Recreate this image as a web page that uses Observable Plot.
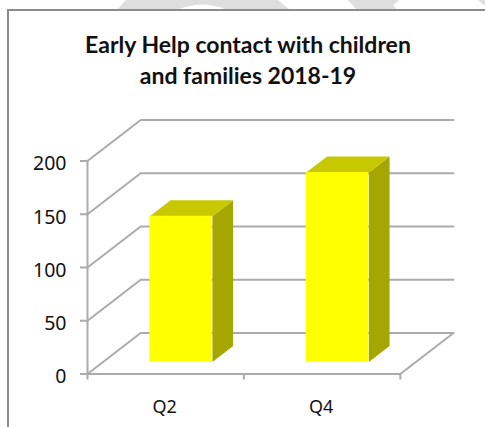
<!DOCTYPE html>
<html>
<head>
<meta charset="utf-8">
<script src="https://cdn.jsdelivr.net/npm/d3@7"></script>
<script src="https://cdn.jsdelivr.net/npm/@observablehq/plot@0.6"></script>
<style>
  html, body { margin: 0; padding: 0; background: #fff; overflow: hidden; }
  #page { position: relative; width: 485px; height: 427px; font-family: Lato, sans-serif; overflow: hidden; }
  #backdrop { position: absolute; left: 0; top: 0; }
  #frame { position: absolute; left: 7px; top: 9px; width: 500px; height: 440px; background: #fff;
           border: 2px solid #8c8c8c; box-sizing: border-box; }
  #title { position: absolute; left: 48px; top: 29px; width: 400px; margin: 0; text-align: center;
           font-size: 23px; line-height: 30.5px; font-weight: 700; color: #111; }
  #chart { position: absolute; left: 0; top: 0; }
  #chart svg { background: transparent; }
</style>
</head>
<body>
<div id="page">
  <svg id="backdrop" width="485" height="12" fill="#dedede">
    <path d="M117,10 L126,0 H278 L290,10 H227 Q203,-1 177,10 Z"/>
    <path d="M348,0 H399 L393,5 L397,10 H357 Z"/>
    <path d="M478,0 H485 V6 Z"/>
  </svg>
  <div id="frame"></div>
  <h1 id="title">Early Help contact with children<br>and families 2018-19</h1>
  <div id="chart"></div>
</div>
<script>
// Quarterly contact counts
const quarters = ["Q2", "Q4"];
const contacts = [137, 178];
const valueTicks = [0, 50, 100, 150, 200];

// Oblique projection: depth 0 is the front of the floor, depth 1 the back wall.
const depthX = 0.34;      // category units per full depth
const depthY = 38.5;      // value units per full depth
const barInset = 0.30;    // bar start within its category slot
const barWidth = 0.40;
const barDepth = [0.29, 0.68];

const px = (slot, d) => slot + d * depthX;
const py = (value, d) => value + d * depthY;

// Each gridline runs along the left wall and then across the back wall.
const gridlines = valueTicks.flatMap((v) => [
  {v, x: px(0, 0), y: py(v, 0)},
  {v, x: px(0, 1), y: py(v, 1)},
  {v, x: px(2, 1), y: py(v, 1)}
]);

// Front edge of the floor and its right-hand edge.
const floorEdge = [
  {x: px(0, 0), y: py(0, 0)},
  {x: px(2, 0), y: py(0, 0)},
  {x: px(2, 1), y: py(0, 1)}
];

const bars = quarters.map((q, i) => {
  const x0 = i + barInset;
  const x1 = x0 + barWidth;
  return {q, x0, x1, value: contacts[i]};
});

const [d0, d1] = barDepth;

const sideFaces = bars.flatMap((b) => [
  {q: b.q, x: px(b.x1, d0), y: py(0, d0)},
  {q: b.q, x: px(b.x1, d1), y: py(0, d1)},
  {q: b.q, x: px(b.x1, d1), y: py(b.value, d1)},
  {q: b.q, x: px(b.x1, d0), y: py(b.value, d0)}
]);

const topFaces = bars.flatMap((b) => [
  {q: b.q, x: px(b.x0, d0), y: py(b.value, d0)},
  {q: b.q, x: px(b.x1, d0), y: py(b.value, d0)},
  {q: b.q, x: px(b.x1, d1), y: py(b.value, d1)},
  {q: b.q, x: px(b.x0, d1), y: py(b.value, d1)}
]);

const axisColor = "#ababab";
const axisWeight = 2;

const chart = Plot.plot({
  width: 485,
  height: 427,
  marginLeft: 87,
  marginRight: 32,
  marginTop: 119.5,
  marginBottom: 53.5,
  x: {domain: [0, 2 + depthX], axis: null},
  y: {domain: [0, 200 + depthY], axis: null},
  style: {background: "transparent", overflow: "visible"},
  marks: [
    // Walls
    Plot.line(gridlines, {x: "x", y: "y", z: "v", stroke: axisColor, strokeWidth: axisWeight}),
    Plot.ruleX([0], {y1: 0, y2: 200, stroke: axisColor, strokeWidth: axisWeight}),
    Plot.line(floorEdge, {x: "x", y: "y", stroke: axisColor, strokeWidth: axisWeight}),

    // Value axis: tick marks, then labels set slightly below their ticks
    Plot.axisY({
      ticks: valueTicks,
      anchor: "left",
      label: null,
      tickSize: 7,
      tickFormat: () => "",
      stroke: axisColor,
      strokeWidth: axisWeight
    }),
    Plot.axisY({
      ticks: valueTicks,
      anchor: "left",
      label: null,
      tickSize: 0,
      tickPadding: 21,
      dy: 3,
      fontSize: 19.5,
      color: "#111"
    }),

    // Category axis: boundary ticks, then quarter labels centred in each slot
    Plot.axisX({
      ticks: [0, 1, 2],
      anchor: "bottom",
      label: null,
      tickSize: 6,
      tickFormat: () => "",
      stroke: axisColor,
      strokeWidth: axisWeight
    }),
    Plot.axisX({
      ticks: [0.5, 1.5],
      anchor: "bottom",
      label: null,
      tickSize: 0,
      tickPadding: 26,
      dx: -1,
      tickFormat: (d) => quarters[Math.floor(d)],
      fontSize: 18,
      color: "#111"
    }),

    // Bars, back faces first
    Plot.line(sideFaces, {x: "x", y: "y", z: "q", fill: "#a6a600", stroke: "none"}),
    Plot.line(topFaces, {x: "x", y: "y", z: "q", fill: "#c8c800", stroke: "none"}),
    Plot.rect(bars, {
      x1: (b) => px(b.x0, d0),
      x2: (b) => px(b.x1, d0),
      y1: () => py(0, d0),
      y2: (b) => py(b.value, d0),
      fill: "#ffff00"
    })
  ]
});

document.getElementById("chart").append(chart);
</script>
</body>
</html>
